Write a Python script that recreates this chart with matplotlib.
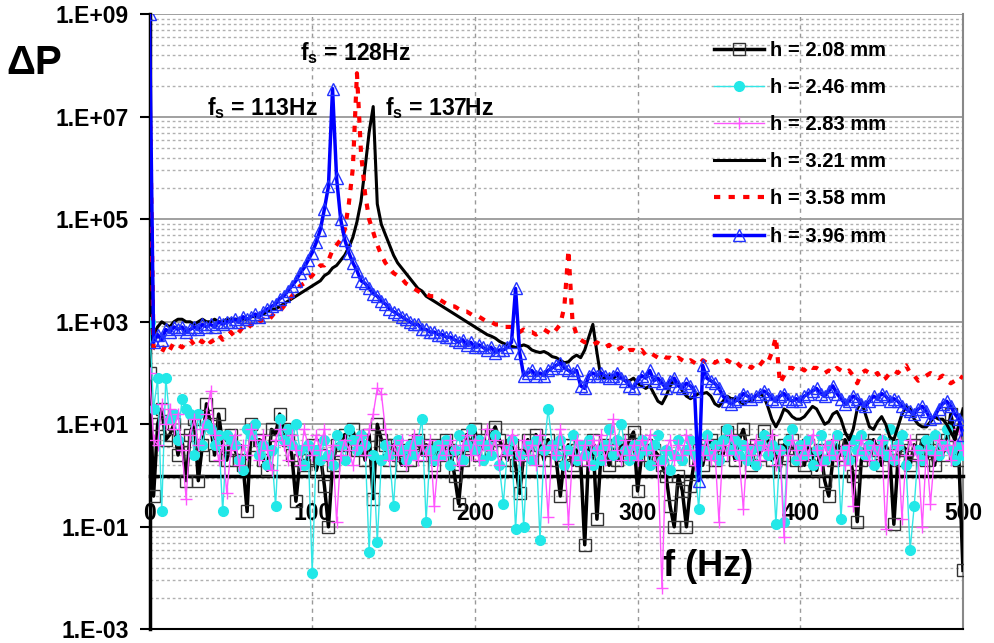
import numpy as np
import matplotlib
matplotlib.use('Agg')
import matplotlib.pyplot as plt
from matplotlib.ticker import FixedLocator, FuncFormatter

plt.rcParams['font.family'] = ['Liberation Sans', 'DejaVu Sans']
plt.rcParams['font.weight'] = 'bold'
plt.rcParams['mathtext.fontset'] = 'custom'
plt.rcParams['mathtext.rm'] = 'Liberation Sans:bold'
plt.rcParams['mathtext.bf'] = 'Liberation Sans:bold'

# frequency grid (Hz), 2.5 Hz steps from 0 to 500
freq = np.arange(0, 500.1, 2.5)

# log10(dP), one row = 50 Hz
h208 = [2.0, -0.4, 1.0, 1.3, 0.7, 0.8, 1.0, 0.4, 0.7, -0.1, 0.8, 1.1, -0.1, 0.6, 1.4, 1.0, 0.4, 1.2, 0.6, 0.3,
        0.8, 0.5, 0.3, 0.2, -0.7, 1.0, 0.6, 0.7, 0.3, 0.1, 0.9, 0.8, 1.2, 0.9, 0.7, 0.4, -0.5, 0.3, 0.2, 0.3,
        0.6, 0.1, 0.4, -0.2, -1.0, 0.2, 0.6, 0.5, 0.8, 0.6, 0.9, 0.5, 0.7, 0.3, 0.8, -0.45, 1.0, 0.7, 0.6, 0.3,
        0.6, 0.4, 0.2, 0.5, 0.3, 0.6, 0.7, 0.4, 0.6, 0.5, 0.2, 0.6, 0.4, 0.7, 0.5, 0.0, -0.55, 0.3, 0.8, 0.6,
        0.9, 0.4, 0.7, 0.5, 0.8, 0.95, 0.7, 0.5, 0.3, 0.6, 0.2, -0.35, 0.4, 0.7, 0.5, 0.8, 0.6, 0.3, 0.7, 0.5,
        0.3, -0.4, 0.4, 0.6, 0.2, 0.5, 0.3, -1.35, 0.5, 0.7, -0.85, 0.4, 0.6, 0.2, 0.5, 0.3, 0.6, 0.4, 0.7, 0.85,
        -0.3, 0.4, 0.6, 0.3, 0.5, 0.4, 0.2, 0.0, -0.6, -1.0, 0.0, -0.3, -1.0, -0.2, 0.3, 0.5, 0.2, 0.6, 0.7, 0.3,
        0.6, 0.4, 0.85, 0.6, 0.3, 0.7, 0.9, 0.5, 0.2, 0.6, 0.4, 0.87, 0.7, 0.3, 0.5, 0.1, 0.6, 0.4, 0.7, 0.3,
        0.5, 0.2, 0.6, 0.4, 0.1, 0.5, -0.1, -0.4, 0.3, 0.6, 0.4, 0.7, 0.5, 0.0, -0.9, 0.3, 0.6, 0.4, 0.7, 0.5,
        0.2, 0.6, 0.4, -0.95, 0.3, 0.6, 0.5, 0.2, 0.6, 0.4, 0.7, 0.3, 0.5, 0.2, 0.6, 0.4, 0.7, 1.2, 0.8, 0.3,
        -1.85]

h246 = [3.0, 1.3, 1.9, -0.7, 1.9, 1.1, 1.2, 0.7, 1.5, 1.3, 1.2, 0.4, 1.2, 0.6, 1.0, 0.9, 0.6, 0.8, -0.7, 0.8,
        0.7, 0.6, 0.3, 0.1, 0.9, 0.8, 1.0, 0.4, 0.6, 0.2, 0.5, -0.6, 1.1, 0.7, 0.9, 0.6, 1.0, 0.5, 0.2, 0.6,
        -1.9, 0.5, 0.3, 0.7, 0.4, 0.2, 0.8, 0.6, 0.3, 0.9, 0.7, 0.5, 0.8, 0.6, -1.5, 0.4, -1.3, 0.3, 0.6, 0.4,
        -0.6, 0.7, 0.5, 0.3, 0.6, 0.4, 0.7, 1.1, -0.9, 0.5, 0.3, 0.6, 0.4, 0.7, 0.2, 0.5, 0.8, 0.3, 0.6, 0.9,
        0.5, 0.7, 0.3, 0.6, 0.4, 0.8, 0.2, -0.55, 0.5, 0.7, -1.05, 0.4, -1.0, 0.6, 0.3, 0.7, -1.25, 0.5, 1.3, 0.6,
        0.4, 0.7, 0.2, 0.5, 0.8, 0.3, 0.6, 0.4, 0.7, 0.2, 0.5, 0.3, 0.6, 0.9, 0.4, 0.7, 1.0, 0.5, 0.3, 0.6,
        0.4, 0.7, 0.5, 0.2, 0.6, 0.8, 0.3, 0.5, 0.1, 0.4, 0.7, 0.3, 0.5, 0.7, 0.4, -0.65, 0.5, 0.8, 0.4, 0.6,
        0.3, 0.7, 0.9, 0.5, 0.7, 0.4, 0.6, 0.3, 0.5, 0.2, 0.6, 0.8, 0.4, 0.6, -0.95, 0.5, -0.9, 0.7, 0.9, 0.3,
        0.6, 0.4, 0.7, 0.2, 0.5, 0.8, 0.3, 0.6, 0.4, 0.8, -0.85, 0.5, 0.3, 0.7, 0.5, 0.8, 0.4, 0.6, 0.2, 0.5,
        0.7, 0.4, 0.9, 0.3, 0.6, 0.8, 0.2, -1.45, -0.6, 0.5, 0.3, 0.7, 0.5, 0.8, 0.4, 0.6, 0.9, 0.5, 0.3, 0.6,
        0.4]

h283 = [2.0, 0.7, 0.6, 1.4, 1.0, 1.3, 0.9, 1.2, 0.5, -0.45, 0.8, 1.1, 0.6, 0.9, 1.2, 1.65, 0.8, 0.3, 0.6, -0.35,
        0.5, 0.8, 0.2, 0.6, 0.4, 0.9, 0.7, 0.3, 0.8, 0.5, 0.1, 0.7, 0.9, 0.6, 0.3, 0.8, 0.5, 0.2, 0.9, 0.6,
        0.4, 0.8, 0.5, 0.9, 0.3, 0.6, -0.9, 0.4, 0.7, 0.5, 0.2, 0.6, 0.8, 0.4, 0.9, 1.2, 1.7, 1.6, 0.9, 0.3,
        0.6, 0.4, 0.7, 0.2, 0.5, 0.8, 0.3, 0.6, 0.4, 0.7, -0.6, 0.3, 0.6, 0.4, 0.7, 0.5, 0.2, 0.6, 0.8, 0.4,
        0.7, 0.3, 0.6, 0.9, 0.5, 0.7, 0.2, 0.6, 0.4, 0.8, 0.5, 0.3, 0.7, 0.4, 0.6, 0.2, 0.8, 0.5, -0.8, 0.6,
        0.4, 0.9, 0.5, -0.95, 0.4, 0.7, 0.3, 0.6, 0.2, 0.7, 0.5, 0.8, 0.3, 0.6, 1.1, 0.5, 0.3, 0.7, 0.4, 0.6,
        0.3, 0.7, 0.5, 0.8, 0.4, 0.2, -2.2, 0.5, 0.7, 0.3, 0.6, 0.4, 0.8, 0.5, 0.2, 0.6, 0.4, 0.7, 0.3, 0.5,
        -0.9, 0.6, 0.4, 0.8, 0.5, 0.3, -0.65, 0.6, 0.4, 0.7, 0.3, 0.6, 0.5, 0.8, 0.2, 0.5, -1.2, 0.4, 0.7, 0.5,
        0.3, 0.6, 0.4, 0.8, 0.5, 0.2, 0.6, 0.4, 0.7, 0.3, 0.5, 0.2, 0.6, -0.6, 0.4, 0.7, 0.5, 0.3, 0.6, 0.4,
        0.7, -1.05, 0.5, 0.3, 0.6, -0.85, 0.4, 0.7, 0.5, 0.3, -1.0, 0.5, -0.55, 0.4, 0.7, 0.5, 0.6, 0.3, 0.7, 0.9,
        0.5]

h321 = [6.9, 2.75, 2.9, 3.0, 2.95, 2.9, 3.0, 3.05, 3.05, 3.0, 3.0, 2.95, 3.0, 3.05, 3.0, 3.0, 3.05, 3.0, 3.0, 3.05,
        3.05, 3.05, 3.05, 3.05, 3.05, 3.1, 3.1, 3.15, 3.15, 3.2, 3.25, 3.25, 3.3, 3.35, 3.4, 3.45, 3.5, 3.55, 3.6, 3.65,
        3.7, 3.75, 3.8, 3.9, 3.95, 4.05, 4.1, 4.2, 4.3, 4.45, 4.65, 4.95, 5.35, 6.0, 6.7, 7.2, 5.3, 4.9, 4.7, 4.5,
        4.3, 4.15, 4.05, 3.95, 3.85, 3.75, 3.65, 3.6, 3.5, 3.45, 3.4, 3.35, 3.3, 3.25, 3.2, 3.15, 3.1, 3.05, 3.0, 2.95,
        2.9, 2.85, 2.8, 2.75, 2.72, 2.68, 2.62, 2.58, 2.55, 2.52, 2.5, 2.52, 2.55, 2.52, 2.45, 2.42, 2.4, 2.42, 2.38, 2.32,
        2.3, 2.25, 2.2, 2.22, 2.3, 2.35, 2.3, 2.45, 2.7, 2.95, 2.4, 1.9, 1.9, 1.95, 1.9, 1.95, 1.9, 1.85, 1.85, 1.9,
        1.8, 1.75, 1.7, 1.75, 1.6, 1.45, 1.4, 1.55, 1.75, 1.85, 1.8, 1.65, 1.55, 1.5, 1.55, 1.6, 1.6, 1.62, 1.55, 1.4,
        1.35, 1.45, 1.55, 1.5, 1.5, 1.45, 1.4, 1.45, 1.45, 1.55, 1.6, 1.55, 1.35, 1.1, 0.95, 1.1, 1.3, 1.25, 1.15, 1.1,
        1.1, 1.15, 1.25, 1.35, 1.3, 1.15, 1.0, 1.05, 1.2, 1.25, 1.1, 0.85, 0.7, 0.9, 1.3, 1.45, 1.2, 0.95, 0.9, 1.05,
        1.15, 1.0, 0.75, 0.7, 0.95, 1.2, 1.35, 1.3, 1.1, 1.0, 0.95, 0.95, 1.05, 1.15, 1.1, 1.1, 1.0, 0.85, 0.7, 1.0,
        1.3]

h358 = [7.7, 2.5, 2.45, 2.4, 2.55, 2.45, 2.6, 2.55, 2.5, 2.6, 2.65, 2.55, 2.65, 2.6, 2.7, 2.6, 2.65, 2.75, 2.65, 2.7,
        2.8, 2.7, 2.8, 2.9, 2.85, 2.95, 2.9, 3.0, 3.05, 3.0, 3.1, 3.2, 3.2, 3.3, 3.4, 3.5, 3.6, 3.7, 3.75, 3.85,
        3.9, 4.0, 4.1, 4.1, 4.2, 4.4, 4.5, 4.6, 4.8, 5.3, 6.0, 7.85, 6.3, 5.5, 5.0, 4.75, 4.5, 4.3, 4.15, 4.05,
        3.95, 3.9, 3.85, 3.75, 3.7, 3.65, 3.6, 3.55, 3.55, 3.5, 3.5, 3.45, 3.4, 3.35, 3.3, 3.3, 3.25, 3.2, 3.2, 3.15,
        3.1, 3.1, 3.05, 3.0, 3.0, 2.95, 2.95, 2.9, 2.9, 2.9, 2.85, 2.8, 2.85, 2.8, 2.8, 2.75, 2.8, 2.85, 2.8, 2.75,
        2.85, 2.95, 3.3, 4.4, 3.0, 2.75, 2.65, 2.6, 2.6, 2.55, 2.6, 2.55, 2.5, 2.55, 2.45, 2.45, 2.5, 2.4, 2.45, 2.45,
        2.4, 2.45, 2.35, 2.4, 2.35, 2.3, 2.35, 2.3, 2.3, 2.25, 2.3, 2.25, 2.2, 2.25, 2.2, 2.15, 2.25, 2.2, 2.25, 2.2,
        2.25, 2.2, 2.25, 2.2, 2.25, 2.15, 2.1, 2.15, 2.1, 2.2, 2.15, 2.25, 2.2, 2.4, 2.7, 1.8, 1.95, 2.1, 2.1, 2.05,
        2.1, 2.05, 2.15, 2.1, 2.1, 2.05, 2.0, 2.05, 2.0, 2.1, 2.05, 2.0, 2.05, 1.95, 1.8, 2.0, 2.05, 2.0, 1.95, 2.0,
        1.85, 1.9, 2.0, 2.05, 2.0, 2.1, 2.15, 2.0, 1.95, 1.85, 1.9, 1.95, 2.0, 1.95, 1.9, 1.95, 1.85, 1.8, 1.85, 1.95,
        1.9]

h396 = [9.0, 2.6, 2.75, 2.65, 2.85, 2.8, 2.9, 2.85, 2.9, 2.8, 2.85, 2.9, 2.85, 2.95, 2.9, 2.95, 2.9, 3.0, 2.95, 3.0,
        3.0, 3.05, 3.0, 3.1, 3.05, 3.1, 3.15, 3.1, 3.2, 3.25, 3.3, 3.35, 3.45, 3.5, 3.6, 3.7, 3.8, 3.95, 4.05, 4.2,
        4.35, 4.55, 4.8, 5.2, 5.65, 7.55, 5.8, 5.0, 4.6, 4.35, 4.15, 4.0, 3.8, 3.75, 3.65, 3.55, 3.5, 3.4, 3.35, 3.25,
        3.2, 3.15, 3.1, 3.05, 3.0, 2.95, 2.95, 2.85, 2.85, 2.8, 2.8, 2.75, 2.75, 2.7, 2.7, 2.65, 2.6, 2.65, 2.55, 2.6,
        2.5, 2.55, 2.5, 2.45, 2.5, 2.4, 2.45, 2.45, 2.5, 2.6, 3.65, 2.4, 1.95, 2.0, 2.05, 1.95, 2.0, 1.95, 2.05, 2.1,
        2.15, 2.2, 2.1, 2.05, 2.0, 2.05, 1.75, 1.7, 1.95, 2.0, 1.95, 2.0, 1.95, 1.9, 1.95, 2.0, 1.9, 1.85, 1.75, 1.7,
        1.85, 1.95, 1.9, 2.05, 1.85, 1.9, 1.8, 1.7, 1.85, 1.9, 1.75, 1.7, 1.8, 1.75, 1.65, -0.1, 2.15, 1.9, 1.85, 1.8,
        1.7, 1.55, 1.45, 1.4, 1.45, 1.5, 1.6, 1.55, 1.5, 1.55, 1.6, 1.65, 1.6, 1.5, 1.45, 1.55, 1.6, 1.5, 1.45, 1.5,
        1.45, 1.55, 1.6, 1.65, 1.7, 1.6, 1.55, 1.65, 1.75, 1.6, 1.5, 1.4, 1.45, 1.55, 1.5, 1.4, 1.35, 1.45, 1.55, 1.5,
        1.6, 1.55, 1.45, 1.5, 1.45, 1.35, 1.3, 1.25, 1.2, 1.3, 1.35, 1.25, 1.1, 1.15, 1.3, 1.4, 1.45, 1.35, 1.2, 1.1,
        0.8]

labels = ['h = 2.08 mm', 'h = 2.46 mm', 'h = 2.83 mm', 'h = 3.21 mm', 'h = 3.58 mm', 'h = 3.96 mm']
peaks = [(r'$\mathbf{f_s}$ = 113Hz', 35.3, 7.03), (r'$\mathbf{f_s}$ = 128Hz', 92.5, 8.11),
         (r'$\mathbf{f_s}$ = 137Hz', 144.7, 7.03)]

fig = plt.figure(figsize=(9.94, 6.43), dpi=100)
ax = fig.add_axes([149.5 / 994, 1 - 629.3 / 643, (963 - 149.5) / 994, (629.3 - 14.3) / 643])

ax.plot(freq, 10 ** np.array(h208), color='black', lw=2.5, marker='s', ms=8,
        mfc='none', mec='#333333', mew=1, label=labels[0], zorder=3)
ax.plot(freq, 10 ** np.array(h246), color='#33e6e6', lw=1, marker='o', ms=7,
        mfc='#22e8e8', mec='#22e8e8', label=labels[1], zorder=4)
ax.plot(freq, 10 ** np.array(h283), color='#ff55ff', lw=1, marker='+', ms=8,
        mew=1, label=labels[2], zorder=4)
ax.plot(freq, 10 ** np.array(h321), color='black', lw=2.2, label=labels[3], zorder=5)
ax.plot(freq, 10 ** np.array(h358), color='#ff0000', lw=3, ls=(0, (1.5, 2)), label=labels[4], zorder=5)
ax.plot(freq, 10 ** np.array(h396), color='#0000ff', lw=2.5, marker='^', ms=8,
        mfc='none', mec='#2233ff', mew=1, label=labels[5], zorder=6)

ax.set_yscale('log')
ax.set_xlim(0, 500)
ax.set_ylim(1e-3, 1e9)

major = [10.0 ** e for e in range(-3, 10, 2)]
minor = [k * k * m for m in major[:-1] for k in range(2, 10)]
ax.yaxis.set_major_locator(FixedLocator(major))
ax.yaxis.set_minor_locator(FixedLocator(minor))
ax.yaxis.set_major_formatter(FuncFormatter(lambda v, p: '1.E%+03d' % round(np.log10(v))))
ax.yaxis.set_minor_formatter(FuncFormatter(lambda v, p: ''))
ax.set_xticks([0, 100, 200, 300, 400, 500])

ax.grid(True, which='major', axis='y', color='#999999', lw=1.3, ls='-')
ax.grid(True, which='minor', axis='y', color='#b0b0b0', lw=1, ls=(0, (2, 2)))
ax.grid(True, which='major', axis='x', color='#999999', lw=1, ls=(0, (3, 3)))
ax.set_axisbelow(True)

ax.tick_params(axis='y', which='major', direction='out', length=7, width=1.5,
               labelsize=16.5, pad=8)
ax.tick_params(axis='y', which='minor', length=0)
ax.tick_params(axis='x', length=0, labelsize=16.5, pad=19)
for t in ax.get_xticklabels() + ax.get_yticklabels():
    t.set_fontweight('bold')

ax.spines['bottom'].set_position(('data', 1))
ax.spines['bottom'].set_linewidth(2.5)
ax.spines['left'].set_linewidth(2.5)
ax.spines['top'].set_visible(False)
ax.spines['right'].set_color('#888888')
ax.spines['right'].set_linewidth(1.5)
ax.axhline(1e-3, color='black', lw=1.5, clip_on=False, zorder=7)

for txt, fx, ly in peaks:
    ax.text(fx, 10 ** ly, txt, fontsize=16.5, fontweight='bold', va='baseline', ha='left', zorder=8)

ax.text(315.6, 10 ** -1.77, 'f (Hz)', fontsize=26, fontweight='bold', va='center', ha='left')
fig.text(6 / 994, 1 - 63 / 643, 'ΔP', fontsize=29, fontweight='bold', va='center', ha='left')

ax.legend(loc='upper left', bbox_to_anchor=(714 / 994, 1 - 41 / 643), bbox_transform=fig.transFigure,
          frameon=False, prop={'size': 14.5, 'weight': 'bold'}, handlelength=2.5, handletextpad=0.3,
          labelspacing=0.9, borderpad=0, borderaxespad=0, numpoints=1)

fig.savefig('out.png', dpi=100)
